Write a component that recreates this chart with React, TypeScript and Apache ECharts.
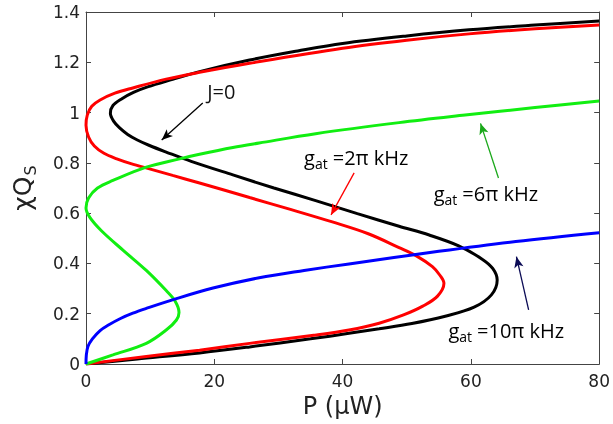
import React, { useEffect, useRef } from "react";
import * as echarts from "echarts";

// Tick values
const xTickValues = [0, 20, 40, 60, 80];
const yTickValues = [0, 0.2, 0.4, 0.6, 0.8, 1, 1.2, 1.4];

// Curves: [P (µW), χQs] along each curve
const curveJ0: [number, number][] = [
  [0, 0], [8, 0.02], [17.7, 0.044], [25.5, 0.068], [35, 0.1], [41, 0.122], [45.7, 0.14],
  [50.8, 0.161], [56, 0.19], [60.5, 0.226], [63.2, 0.275], [64.1, 0.334], [63.4, 0.38],
  [61.7, 0.418], [58.1, 0.47], [53.5, 0.513], [48.8, 0.548], [42.3, 0.598], [35.8, 0.65],
  [29.3, 0.7], [22.9, 0.752], [16.4, 0.806], [12.5, 0.843], [9.9, 0.869], [8, 0.891],
  [6.5, 0.913], [5.2, 0.94], [4.3, 0.966], [3.8, 0.997], [4.2, 1.028], [5.6, 1.055],
  [7.4, 1.08], [9.6, 1.102], [13.5, 1.132], [17.7, 1.163], [25.5, 1.209], [33, 1.245],
  [40, 1.275], [50, 1.305], [59.7, 1.329], [70, 1.348], [80, 1.364],
];
const curve2pi: [number, number][] = [
  [0, 0], [9.4, 0.03], [17.7, 0.055], [25.5, 0.082], [35.8, 0.115], [41, 0.135],
  [45.7, 0.162], [49.5, 0.195], [52.5, 0.23], [54.8, 0.27], [55.8, 0.321], [55.2, 0.352],
  [54, 0.387], [51.5, 0.43], [48.8, 0.463], [44, 0.518], [38.4, 0.565], [32, 0.614],
  [25.5, 0.662], [21.5, 0.692], [17.7, 0.72], [13.5, 0.75], [9.9, 0.776], [7, 0.797],
  [4.8, 0.816], [2.8, 0.838], [1.3, 0.867], [0.4, 0.903], [0, 0.95], [0.2, 0.99],
  [0.9, 1.025], [2.2, 1.05], [4.5, 1.077], [7.3, 1.098], [12.5, 1.133], [17.7, 1.16],
  [25.5, 1.196], [40, 1.256], [50, 1.288], [59.7, 1.313], [70, 1.333], [80, 1.348],
];
const curve6pi: [number, number][] = [
  [0, 0], [4.2, 0.036], [9.4, 0.082], [12.5, 0.135], [14.1, 0.175], [14.5, 0.205],
  [13.9, 0.25], [12.5, 0.292], [9.4, 0.372], [5.8, 0.452], [2.4, 0.53], [0.6, 0.583],
  [0, 0.62], [0.4, 0.66], [1.8, 0.7], [4.2, 0.73], [9.4, 0.783], [14.6, 0.816],
  [17.7, 0.834], [22.9, 0.861], [27, 0.879], [35.8, 0.916], [48.8, 0.96], [59.1, 0.99],
  [70, 1.02], [80, 1.046],
];
const curve10pi: [number, number][] = [
  [0, 0], [0.05, 0.035], [0.3, 0.07], [1, 0.1], [2.2, 0.133], [3.5, 0.155], [5.3, 0.18],
  [7.3, 0.202], [9.4, 0.221], [13.6, 0.256], [19.8, 0.302], [27, 0.343], [34, 0.372],
  [41, 0.398], [55, 0.448], [67, 0.487], [80, 0.522],
];

// Annotation arrows: [tail, head] in data coordinates
const arrowJ0: [number, number][] = [[18.2, 1.038], [11.8, 0.891]];
const arrow2pi: [number, number][] = [[41.8, 0.76], [38.2, 0.593]];
const arrow6pi: [number, number][] = [[64.3, 0.74], [61.5, 0.957]];
const arrow10pi: [number, number][] = [[69.0, 0.215], [67.1, 0.427]];

// Annotation labels: [left P, centre χQs]
const labelJ0Pos: [number, number] = [18.9, 1.082];
const label2piPos: [number, number] = [34.0, 0.82];
const label6piPos: [number, number] = [54.2, 0.68];
const label10piPos: [number, number] = [56.5, 0.135];
const labelTexts = { j0: "J=0", g2: "=2π kHz", g6: "=6π kHz", g10: "=10π kHz" };

export default function App() {
  const ref = useRef<HTMLDivElement>(null);
  useEffect(() => {
    const chart = echarts.init(ref.current!, null, { renderer: "svg" });
    const axisColor = "#444";
    const tickLabel = { fontFamily: "DejaVu Sans", fontSize: 17, color: "#222" };
    const arrowLine = (pts: [number, number][], color: string) => ({
      silent: true,
      symbol: ["none", "arrow"],
      symbolSize: [7, 11],
      label: { show: false },
      lineStyle: { color, width: 1.3, type: "solid" },
      emphasis: { disabled: true },
      data: [[{ coord: pts[0] }, { coord: pts[1] }]],
    });
    const mk = (name: string, data: [number, number][], color: string, z: number, arrow: any) => ({
      type: "line",
      name,
      data,
      showSymbol: false,
      symbol: "none",
      smooth: 0.35,
      z,
      lineStyle: { color, width: 3 },
      markLine: arrow,
    });
    const baseX = {
      type: "value",
      min: xTickValues[0],
      max: xTickValues[xTickValues.length - 1],
      interval: 20,
      splitLine: { show: false },
      axisLine: { show: true, onZero: false, lineStyle: { color: axisColor, width: 1 } },
      axisTick: { show: true, inside: true, length: 5, lineStyle: { color: axisColor } },
    };
    const baseY = {
      type: "value",
      min: yTickValues[0],
      max: yTickValues[yTickValues.length - 1],
      interval: 0.2,
      splitLine: { show: false },
      axisLine: { show: true, onZero: false, lineStyle: { color: axisColor, width: 1 } },
      axisTick: { show: true, inside: true, length: 5, lineStyle: { color: axisColor } },
    };
    chart.setOption({
      animation: false,
      grid: { left: 86, right: 12, top: 12, bottom: 60 },
      xAxis: [
        {
          ...baseX,
          position: "bottom",
          axisLabel: { ...tickLabel, margin: 8 },
          name: "P (μW)",
          nameLocation: "middle",
          nameGap: 25,
          nameTextStyle: { fontFamily: "DejaVu Sans", fontSize: 24, color: "#222" },
        },
        { ...baseX, position: "top", axisLabel: { show: false } },
      ],
      yAxis: [
        {
          ...baseY,
          position: "left",
          axisLabel: { ...tickLabel, margin: 6 },
          name: "{a|χQ}{s|S}",
          nameLocation: "middle",
          nameGap: 50,
          nameTextStyle: {
            rich: {
              a: { fontFamily: "DejaVu Sans", fontSize: 25, color: "#222", lineHeight: 28, verticalAlign: "middle" },
              s: { fontFamily: "DejaVu Sans", fontSize: 16, color: "#222", lineHeight: 16, padding: [14, 0, 0, 1], verticalAlign: "top" },
            },
          },
        },
        { ...baseY, position: "right", axisLabel: { show: false } },
      ],
      series: [
        mk("J=0", curveJ0, "#000000", 2, arrowLine(arrowJ0, "#000000")),
        mk("2π", curve2pi, "#ff0000", 3, arrowLine(arrow2pi, "#ff0000")),
        mk("6π", curve6pi, "#11ee11", 4, arrowLine(arrow6pi, "#1aa81a")),
        mk("10π", curve10pi, "#0000ff", 5, arrowLine(arrow10pi, "#0b0b55")),
      ],
    });

    const px = (p: [number, number]) => chart.convertToPixel({ gridIndex: 0 }, p) as number[];
    const rich = {
      m: { fontFamily: "Open Sans", fontSize: 20, color: "#111", lineHeight: 22, verticalAlign: "middle" },
      s: { fontFamily: "Open Sans", fontSize: 14, color: "#111", lineHeight: 13, padding: [10, 5, 0, 0], verticalAlign: "top" },
    };
    const gLabel = (pos: [number, number], rest: string) => {
      const [x, y] = px(pos);
      return {
        type: "text",
        x,
        y,
        style: { text: `{m|g}{s|at}{m|${rest}}`, rich, align: "left", verticalAlign: "middle" },
        z: 10,
      };
    };
    const j = px(labelJ0Pos);
    chart.setOption({
      graphic: [
        {
          type: "text",
          x: j[0],
          y: j[1],
          style: { text: labelTexts.j0, fontFamily: "Open Sans", fontSize: 20, fill: "#111", align: "left", verticalAlign: "middle" },
          z: 10,
        },
        gLabel(label2piPos, labelTexts.g2),
        gLabel(label6piPos, labelTexts.g6),
        gLabel(label10piPos, labelTexts.g10),
      ],
    });
    return () => chart.dispose();
  }, []);
  return <div ref={ref} style={{ position: "fixed", left: 0, top: 0, width: 613, height: 424 }} />;
}
